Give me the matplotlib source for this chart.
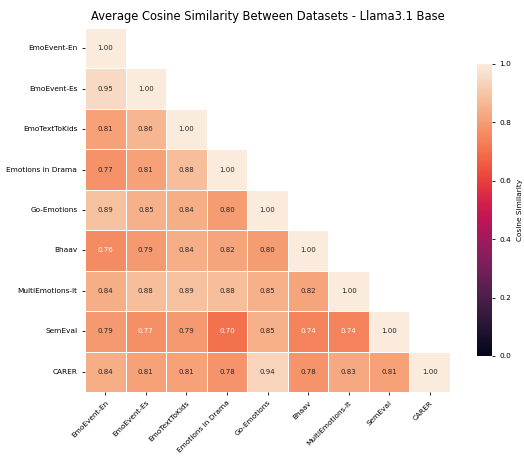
import numpy as np
import seaborn as sns
from matplotlib import pyplot as plt

datasets = ["EmoEvent-En", "EmoEvent-Es", "EmoTextToKids", "Emotions in Drama",
            "Go-Emotions", "Bhaav", "MultiEmotions-It", "SemEval", "CARER"]

# lower triangle rows (row i has i+1 values)
rows = [
    [1.00],
    [0.95, 1.00],
    [0.81, 0.86, 1.00],
    [0.774, 0.81, 0.88, 1.00],
    [0.89, 0.85, 0.84, 0.80, 1.00],
    [0.76, 0.79, 0.84, 0.82, 0.80, 1.00],
    [0.84, 0.88, 0.89, 0.88, 0.85, 0.82, 1.00],
    [0.79, 0.766, 0.79, 0.70, 0.85, 0.74, 0.74, 1.00],
    [0.84, 0.81, 0.81, 0.78, 0.94, 0.78, 0.83, 0.81, 1.00],
]

n = len(datasets)
sim = np.zeros((n, n))
for i, r in enumerate(rows):
    for j, v in enumerate(r):
        sim[i, j] = v
        sim[j, i] = v
mask = np.triu(np.ones_like(sim, dtype=bool), k=1)

fig = plt.figure(figsize=(5.24, 4.61), dpi=100)
ax = fig.add_axes([0.1622, 0.1497, 0.6966, 0.7896])
cax = fig.add_axes([0.9103, 0.2278, 0.0286, 0.6334])

sns.heatmap(sim, mask=mask, cmap="rocket", vmin=0, vmax=1, annot=True, fmt=".2f",
            annot_kws={"size": 5}, linewidths=0.5, linecolor="white",
            xticklabels=datasets, yticklabels=datasets, ax=ax, cbar_ax=cax,
            cbar_kws={"label": "Cosine Similarity"})

ax.set_title("Average Cosine Similarity Between Datasets - Llama3.1 Base", fontsize=8.3)
ax.tick_params(labelsize=5.3, length=2, width=0.6)
plt.setp(ax.get_xticklabels(), rotation=45, ha="right", rotation_mode="anchor")
plt.setp(ax.get_yticklabels(), rotation=0)
cax.tick_params(labelsize=5.3, length=2, width=0.6)
cax.yaxis.label.set_size(5.3)

fig.savefig("out.png", dpi=100)
